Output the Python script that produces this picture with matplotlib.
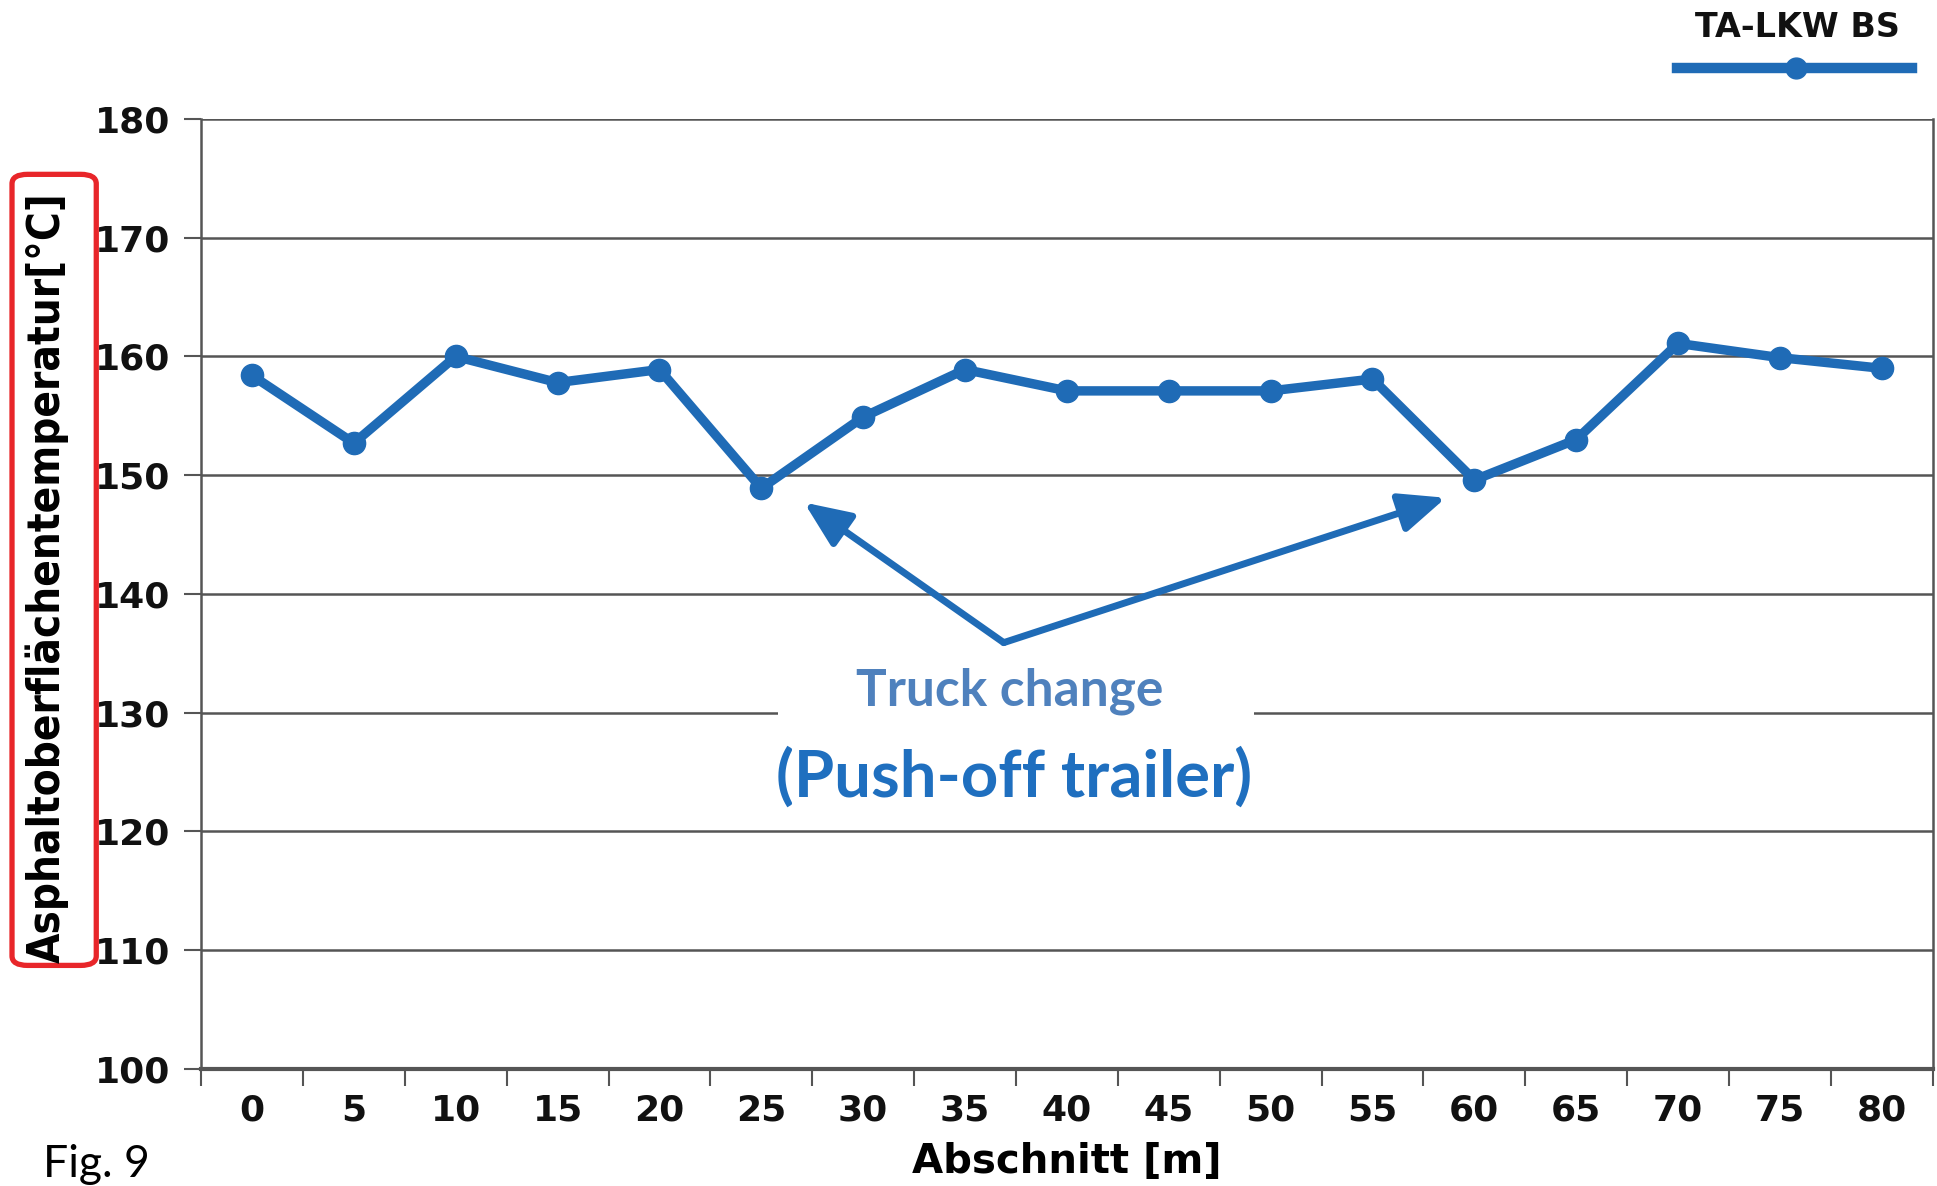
import numpy as np
import matplotlib
matplotlib.use("Agg")
import matplotlib.pyplot as plt
from matplotlib.patches import FancyBboxPatch, Rectangle
from matplotlib.lines import Line2D

# data
abschnitt = [0, 5, 10, 15, 20, 25, 30, 35, 40, 45, 50, 55, 60, 65, 70, 75, 80]
temperatur = [158.4, 152.7, 160.0, 157.8, 158.9, 148.9, 154.9, 158.9, 157.1,
              157.1, 157.1, 158.1, 149.6, 153.0, 161.1, 159.9, 159.0]
y_ticks = [100, 110, 120, 130, 140, 150, 160, 170, 180]
series_name = "TA-LKW BS"

blue = "#1f6bb6"
grid_col = "#555555"

fig = plt.figure(figsize=(19.37, 11.86), dpi=100)
ax = fig.add_axes([0.1038, 0.0987, 0.894, 0.801])

# line with markers
ax.plot(abschnitt, temperatur, color=blue, lw=6.8, marker="o", ms=16,
        solid_joinstyle="round", zorder=3)

ax.set_xlim(-2.5, 82.5)
ax.set_ylim(100, 180)
ax.set_yticks(y_ticks)
ax.set_yticklabels([str(v) for v in y_ticks])
ax.set_xticks(abschnitt)
ax.set_xticklabels([str(v) for v in abschnitt])
# excel-style tick marks between categories
ax.set_xticks(np.arange(-2.5, 83, 5), minor=True)
ax.tick_params(axis="x", which="major", length=0, pad=18)
ax.tick_params(axis="x", which="minor", length=12, width=1.5, color=grid_col, direction="out")
ax.tick_params(axis="y", length=12, width=1.5, color=grid_col, pad=10)
for lab in ax.get_xticklabels() + ax.get_yticklabels():
    lab.set_fontsize(26)
    lab.set_fontweight("bold")
    lab.set_color("#111111")

ax.grid(axis="y", color=grid_col, lw=1.8, zorder=0)
ax.set_axisbelow(True)
for side in ["left", "right", "bottom"]:
    ax.spines[side].set_color(grid_col)
    ax.spines[side].set_linewidth(1.8)
ax.spines["bottom"].set_linewidth(3)
ax.spines["top"].set_visible(False)

ax.set_xlabel("Abschnitt [m]", fontsize=29, fontweight="bold", labelpad=10)

# y label with red rounded frame
fig.text(0.0245, 0.513, "Asphaltoberflächentemperatur[°C]", rotation=90,
         ha="center", va="center", fontsize=31.5, fontweight="bold",
         family=["Liberation Sans Narrow", "DejaVu Sans"], stretch="condensed")
fig.patches.append(FancyBboxPatch((0.0062, 0.186), 0.0435, 0.667,
                                  boxstyle="round,pad=0,rounding_size=0.008",
                                  transform=fig.transFigure, fill=False,
                                  ec="#e8262a", lw=3.8))

# legend: name above line
fig.text(0.928, 0.977, series_name, ha="center", va="center",
         fontsize=24, fontweight="bold", color="#111111")
fig.add_artist(Line2D([0.866, 0.987], [0.943, 0.943], transform=fig.transFigure,
                      color=blue, lw=7.5))
fig.add_artist(Line2D([0.927], [0.943], transform=fig.transFigure,
                      color=blue, marker="o", ms=15))

# annotation: white panel behind the text
ax.add_patch(Rectangle((25.8, 121.8), 23.4, 14.0, fc="white", ec="none", zorder=2))
ax.text(37.2, 131.8, "Truck change", ha="center", va="center", fontsize=37,
        family="Lato", fontweight="bold", color="#4f81bd", zorder=5)
ax.text(37.4, 124.6, "(Push-off trailer)", ha="center", va="center", fontsize=47,
        family="Lato", fontweight="bold", color="#1f6fbf", zorder=5)
start = (36.9, 135.9)
for target in [(27.1, 147.7), (58.6, 148.1)]:
    ax.annotate("", xy=target, xytext=start, zorder=4,
                arrowprops=dict(arrowstyle="-|>,head_length=2.8,head_width=1.2",
                                color=blue, lw=5, shrinkA=0, shrinkB=0))

fig.text(0.022, 0.018, "Fig. 9", ha="left", va="center", fontsize=32, family="Lato")

fig.savefig("out.png", dpi=100, facecolor="white")
